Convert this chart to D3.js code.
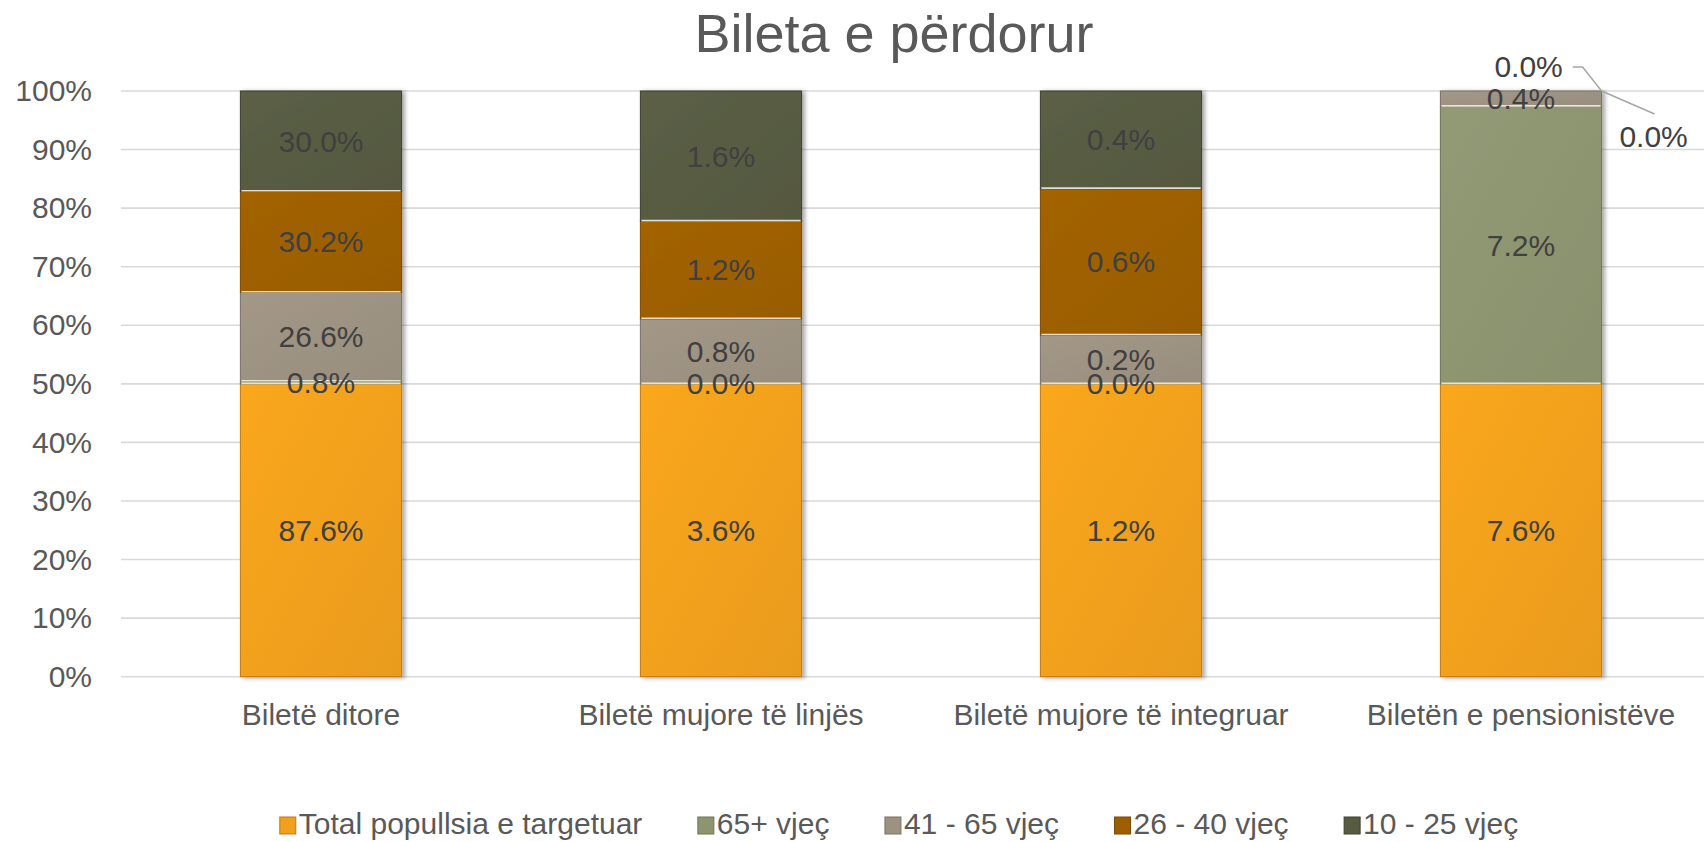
<!DOCTYPE html>
<html>
<head>
<meta charset="utf-8">
<script src="https://cdn.jsdelivr.net/npm/d3@7"></script>
<style>
  html, body { margin: 0; padding: 0; background: #fff; }
  svg { display: block; font-family: "Liberation Sans", Arial, sans-serif; }
</style>
</head>
<body>
<svg id="chart" width="1704" height="842"></svg>
<script>
// ---- data ----
const title = "Bileta e përdorur";
const categories = ["Biletë ditore", "Biletë mujore të linjës", "Biletë mujore të integruar", "Biletën e pensionistëve"];
const seriesNames = ["Total popullsia e targetuar", "65+ vjeç", "41 - 65 vjeç", "26 - 40 vjeç", "10 - 25 vjeç"];
const totalValues = [87.6, 3.6, 1.2, 7.6];
const age65plus   = [0.8, 0.0, 0.0, 7.2];
const age41to65   = [26.6, 0.8, 0.2, 0.4];
const age26to40   = [30.2, 1.2, 0.6, 0.0];
const age10to25   = [30.0, 1.6, 0.4, 0.0];
const yTicks = [0, 0.1, 0.2, 0.3, 0.4, 0.5, 0.6, 0.7, 0.8, 0.9, 1.0];

const seriesValues = [totalValues, age65plus, age41to65, age26to40, age10to25];
const colors = ["#F0A01E", "#8C9470", "#9C9282", "#9C5F00", "#575B42"];
const outline = ["#C07A10", "#6E7556", "#7A7264", "#7A4A00", "#3E412E"];

const table = categories.map((c, i) => {
  const row = { category: c };
  seriesNames.forEach((s, j) => row[s] = seriesValues[j][i]);
  return row;
});

const svg = d3.select("#chart");
const W = 1704, H = 842;
const plot = { left: 121, right: 1721, top: 91, bottom: 676.7 };

const x = d3.scaleBand().domain(categories).range([plot.left, plot.right])
  .paddingInner(0.597).paddingOuter(0.2985);
const y = d3.scaleLinear().domain([0, 1]).range([plot.bottom, plot.top]);

const stack = d3.stack().keys(seriesNames).offset(d3.stackOffsetExpand);
const stacked = stack(table);

// defs: shadow + gradient
const defs = svg.append("defs");
const f = defs.append("filter").attr("id", "shadow").attr("x", "-10%").attr("y", "-5%").attr("width", "130%").attr("height", "115%");
f.append("feDropShadow").attr("dx", 3).attr("dy", 1).attr("stdDeviation", 2.2).attr("flood-color", "#000").attr("flood-opacity", 0.35);
colors.forEach((c, i) => {
  const g = defs.append("linearGradient").attr("id", "grad" + i).attr("x1", 0).attr("y1", 0).attr("x2", 1).attr("y2", 1);
  g.append("stop").attr("offset", "0%").attr("stop-color", d3.color(c).brighter(0.12));
  g.append("stop").attr("offset", "100%").attr("stop-color", d3.color(c).darker(0.08));
});

// title
svg.append("text").attr("x", 894).attr("y", 52).attr("text-anchor", "middle")
  .attr("font-size", 54).attr("fill", "#595959").text(title);

// gridlines
svg.append("g").selectAll("line").data(yTicks).join("line")
  .attr("x1", plot.left).attr("x2", W)
  .attr("y1", d => y(d)).attr("y2", d => y(d))
  .attr("stroke", "#D9D9D9").attr("stroke-width", 1.6);

// y axis labels
const yAxis = d3.axisLeft(y).tickValues(yTicks).tickFormat(d3.format(".0%")).tickSize(0).tickPadding(0);
const yg = svg.append("g").attr("transform", `translate(${plot.left - 29},0)`).call(yAxis);
yg.select(".domain").remove();
yg.selectAll("text").attr("font-size", 30).attr("fill", "#595959")
  .attr("font-family", "Liberation Sans, Arial, sans-serif");

// x axis labels
const xAxis = d3.axisBottom(x).tickSize(0).tickPadding(0);
const xg = svg.append("g").attr("transform", `translate(0,${plot.bottom})`).call(xAxis);
xg.select(".domain").remove();
xg.selectAll("text").attr("font-size", 30).attr("fill", "#595959").attr("dy", 0).attr("y", 48)
  .attr("font-family", "Liberation Sans, Arial, sans-serif");

// bars
const barsG = svg.append("g");
categories.forEach((c, i) => {
  const bx = x(c), bw = x.bandwidth();
  const g = barsG.append("g").attr("filter", "url(#shadow)");
  stacked.forEach((s, j) => {
    const d = s[i];
    const h = y(d[0]) - y(d[1]);
    if (h <= 0) return;
    g.append("rect").attr("x", bx).attr("y", y(d[1])).attr("width", bw).attr("height", h)
      .attr("fill", `url(#grad${j})`).attr("stroke", outline[j]).attr("stroke-width", 1);
  });
  // light separators at top of each upper segment
  stacked.forEach((s, j) => {
    const d = s[i];
    if (j === 0 || y(d[0]) - y(d[1]) <= 0) return;
    g.append("line").attr("x1", bx + 1).attr("x2", bx + bw - 1)
      .attr("y1", y(d[0]) - 0.5).attr("y2", y(d[0]) - 0.5)
      .attr("stroke", "#F2EEE0").attr("stroke-width", 1.6).attr("opacity", 0.9);
  });
});

// data labels
const fmt = v => v.toFixed(1) + "%";
const labelsG = svg.append("g").attr("font-size", 30).attr("fill", "#404040").attr("text-anchor", "middle");
const leaderG = svg.append("g").attr("fill", "none").attr("stroke", "#A6A6A6").attr("stroke-width", 1.5);
categories.forEach((c, i) => {
  const cx = x(c) + x.bandwidth() / 2;
  const right = x(c) + x.bandwidth();
  const outside = [];
  stacked.forEach((s, j) => {
    const d = s[i];
    const v = seriesValues[j][i];
    const h = y(d[0]) - y(d[1]);
    if (h <= 0 && d[1] >= 1 - 1e-9) { outside.push({ j, v, top: y(d[1]) }); return; }
    labelsG.append("text").attr("x", cx).attr("y", (y(d[0]) + y(d[1])) / 2 + 10.5).text(fmt(v));
  });
  // zero-height segments at the top of the bar: labels pushed out with leader lines
  outside.forEach((o, k) => {
    const ax = right, ay = o.top;
    if (k === 0) {
      labelsG.append("text").attr("x", ax - 73).attr("y", ay - 14).text(fmt(o.v));
      leaderG.append("polyline").attr("points", [[ax - 29, ay - 24], [ax - 19, ay - 24], [ax, ay]].map(p => p.join(",")).join(" "));
    } else {
      labelsG.append("text").attr("x", ax + 52).attr("y", ay + 56).text(fmt(o.v));
      leaderG.append("polyline").attr("points", [[ax, ay], [ax + 53, ay + 23]].map(p => p.join(",")).join(" "));
    }
  });
});

// legend
const legend = svg.append("g");
const gap = 55.5;
let cursor = 0;
seriesNames.forEach((s, j) => {
  const g = legend.append("g");
  g.append("rect").attr("x", cursor).attr("y", -17).attr("width", 16).attr("height", 17)
    .attr("fill", colors[j]).attr("stroke", outline[j]).attr("stroke-width", 1);
  const t = g.append("text").attr("x", cursor + 19).attr("y", 0).attr("font-size", 30).attr("fill", "#595959").text(s);
  const w = t.node().getComputedTextLength();
  cursor += 19 + w + gap;
});
const legendWidth = cursor - gap;
legend.attr("transform", `translate(${899 - legendWidth / 2},834)`);
</script>
</body>
</html>
